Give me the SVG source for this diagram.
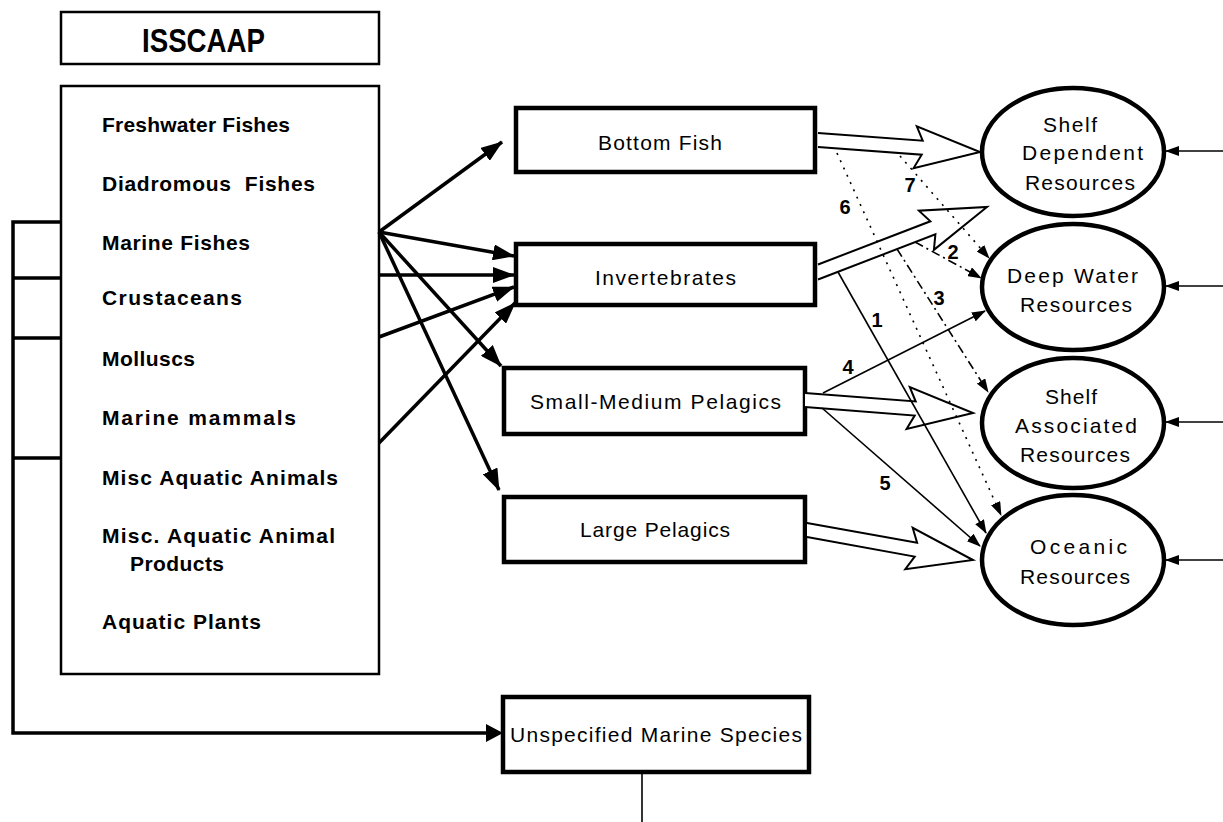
<svg xmlns="http://www.w3.org/2000/svg" width="1223" height="822" viewBox="0 0 1223 822">
<style>
.t{font-family:"Liberation Sans",Arial,sans-serif;fill:#000}
.li{font-size:21px;font-weight:bold}
.mb{font-size:21px}
.num{font-size:20px;font-weight:bold;text-anchor:middle}
.box{fill:#fff;stroke:#000}
.thick{stroke:#000;stroke-width:3.5;fill:none}
.thin{stroke:#000;stroke-width:1.6;fill:none}
.hol{fill:#fff;stroke:#000;stroke-width:2;stroke-linejoin:miter}
</style>
<defs>
<marker id="ah" viewBox="0 0 22 16" refX="21" refY="8" markerWidth="22" markerHeight="16" markerUnits="userSpaceOnUse" orient="auto"><path d="M0,0 L22,8 L0,16 z" fill="#000"/></marker>
<marker id="as" viewBox="0 0 14 10" refX="13" refY="5" markerWidth="14" markerHeight="10" markerUnits="userSpaceOnUse" orient="auto"><path d="M0,0 L14,5 L0,10 z" fill="#000"/></marker>
</defs>
<rect width="1223" height="822" fill="#fff"/>

<g id="isscaap">
<rect class="box" x="61" y="12" width="318" height="52" stroke-width="2.5"/>
<text class="t" x="142" y="52" font-size="33" font-weight="bold" textLength="123" lengthAdjust="spacingAndGlyphs">ISSCAAP</text>
</g>

<g id="list">
<rect class="box" x="61" y="86" width="318" height="588" stroke-width="2.5"/>
<text class="t li" x="102" y="132" textLength="188">Freshwater Fishes</text>
<text class="t li" x="102" y="191" textLength="213" xml:space="preserve">Diadromous  Fishes</text>
<text class="t li" x="102" y="250" textLength="148">Marine Fishes</text>
<text class="t li" x="102" y="305" textLength="140">Crustaceans</text>
<text class="t li" x="102" y="366" textLength="93">Molluscs</text>
<text class="t li" x="102" y="425" textLength="194">Marine mammals</text>
<text class="t li" x="102" y="485" textLength="236">Misc Aquatic Animals</text>
<text class="t li" x="102" y="543" textLength="233">Misc. Aquatic Animal</text>
<text class="t li" x="130" y="571" textLength="94">Products</text>
<text class="t li" x="102" y="629" textLength="159">Aquatic Plants</text>
</g>

<g id="bottomfish">
<rect class="box" x="516" y="108" width="299" height="64" stroke-width="4.5"/>
<text class="t mb" x="598" y="150" textLength="124">Bottom Fish</text>
</g>
<g id="invertebrates">
<rect class="box" x="516" y="244" width="299" height="61" stroke-width="4.5"/>
<text class="t mb" x="595" y="285" textLength="141">Invertebrates</text>
</g>
<g id="smallmedium">
<rect class="box" x="504" y="368" width="301" height="66" stroke-width="4.5"/>
<text class="t mb" x="530" y="409" textLength="251">Small-Medium Pelagics</text>
</g>
<g id="largepelagics">
<rect class="box" x="504" y="497" width="301" height="65" stroke-width="4.5"/>
<text class="t mb" x="580" y="537" textLength="150">Large Pelagics</text>
</g>
<g id="unspecified">
<rect class="box" x="503" y="697" width="306" height="75" stroke-width="4.5"/>
<text class="t mb" x="510" y="742" textLength="292">Unspecified Marine Species</text>
</g>

<g id="shelfdependent">
<ellipse cx="1073" cy="152" rx="91" ry="64" fill="#fff" stroke="#000" stroke-width="4.5"/>
<text class="t mb" x="1043" y="132" textLength="54">Shelf</text>
<text class="t mb" x="1022" y="160" textLength="121">Dependent</text>
<text class="t mb" x="1025" y="190" textLength="110">Resources</text>
</g>
<g id="deepwater">
<ellipse cx="1073" cy="287" rx="91" ry="63" fill="#fff" stroke="#000" stroke-width="4.5"/>
<text class="t mb" x="1007" y="283" textLength="131">Deep Water</text>
<text class="t mb" x="1020" y="312" textLength="112">Resources</text>
</g>
<g id="shelfassociated">
<ellipse cx="1073" cy="423" rx="91" ry="65" fill="#fff" stroke="#000" stroke-width="4.5"/>
<text class="t mb" x="1045" y="404" textLength="52">Shelf</text>
<text class="t mb" x="1015" y="433" textLength="122">Associated</text>
<text class="t mb" x="1020" y="462" textLength="110">Resources</text>
</g>
<g id="oceanic">
<ellipse cx="1073" cy="560" rx="91" ry="65" fill="#fff" stroke="#000" stroke-width="4.5"/>
<text class="t mb" x="1030" y="554" textLength="97">Oceanic</text>
<text class="t mb" x="1020" y="584" textLength="110">Resources</text>
</g>

<g id="connectors">
<path class="thick" d="M61,222 H13 V733 H486" stroke-width="3"/>
<path d="M486,724 L503,733 L486,742 z" fill="#000"/>
<path class="thick" d="M13,278 H61 M13,338 H61 M13,458 H61" stroke-width="3"/>
<line class="thin" x1="642" y1="772" x2="642" y2="822" stroke-width="2"/>

<line class="thick" x1="379" y1="232" x2="502" y2="142" marker-end="url(#ah)"/>
<line class="thick" x1="379" y1="232" x2="514" y2="256" marker-end="url(#ah)"/>
<line class="thick" x1="379" y1="275" x2="514" y2="275" marker-end="url(#ah)"/>
<line class="thick" x1="379" y1="337" x2="514" y2="287" marker-end="url(#ah)"/>
<line class="thick" x1="379" y1="443" x2="515" y2="303" marker-end="url(#ah)"/>
<line class="thick" x1="379" y1="232" x2="501" y2="366" marker-end="url(#ah)"/>
<line class="thick" x1="379" y1="232" x2="499" y2="490" marker-end="url(#ah)"/>

<polyline class="hol" points="818,133 922.7,140.7 916.8,126.3 980,152 913.6,168.1 921.7,154.7 818,147"/>
<polyline class="hol" points="818,264.5 930.4,221.3 918.9,210.7 987,207 933.9,249.9 935.4,234.3 818,279.5"/>
<polyline class="hol" points="805,393 915.7,401.5 909.8,387.1 973,413 906.6,428.9 914.7,415.5 805,407"/>
<polyline class="hol" points="807,523 917.1,542.8 912.7,527.8 973,560 905.3,569.2 914.7,556.6 807,537"/>

<line class="thin" x1="837" y1="153" x2="1001" y2="515" stroke-width="2" stroke-dasharray="2 6" marker-end="url(#as)"/>
<line class="thin" x1="900" y1="156" x2="989" y2="258" stroke-width="2" stroke-dasharray="2 6" marker-end="url(#as)"/>
<line class="thin" x1="915" y1="242" x2="981" y2="278" stroke-width="2" stroke-dasharray="9 4 2 4" marker-end="url(#as)"/>
<line class="thin" x1="897" y1="249" x2="988" y2="392" stroke-width="2" stroke-dasharray="9 4 2 4" marker-end="url(#as)"/>
<line class="thin" x1="838" y1="272" x2="986" y2="533" marker-end="url(#as)"/>
<line class="thin" x1="823" y1="393" x2="985" y2="311" stroke-width="2.5" marker-end="url(#as)"/>
<line class="thin" x1="822" y1="408" x2="980" y2="546" stroke-width="2" marker-end="url(#as)"/>

<line class="thin" x1="1223" y1="151" x2="1166" y2="151" stroke-width="2" marker-end="url(#as)"/>
<line class="thin" x1="1223" y1="286" x2="1166" y2="286" stroke-width="2" marker-end="url(#as)"/>
<line class="thin" x1="1223" y1="422" x2="1166" y2="422" stroke-width="2" marker-end="url(#as)"/>
<line class="thin" x1="1223" y1="560" x2="1166" y2="560" stroke-width="2" marker-end="url(#as)"/>

<text class="t num" x="910" y="192">7</text>
<text class="t num" x="845" y="214">6</text>
<text class="t num" x="953" y="259">2</text>
<text class="t num" x="939" y="305">3</text>
<text class="t num" x="877" y="327">1</text>
<text class="t num" x="848" y="374">4</text>
<text class="t num" x="885" y="490">5</text>
</g>
</svg>
